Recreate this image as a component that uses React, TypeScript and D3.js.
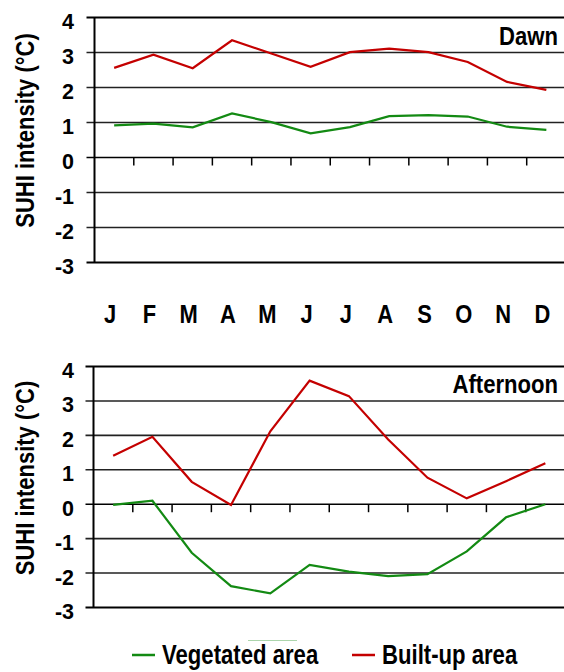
import React, { useEffect, useRef } from 'react';
import * as d3 from 'd3';

const months = ['J', 'F', 'M', 'A', 'M', 'J', 'J', 'A', 'S', 'O', 'N', 'D'];
const yTicks = [4, 3, 2, 1, 0, -1, -2, -3];

const dawnVegetated = [0.92, 0.97, 0.86, 1.26, 1.01, 0.69, 0.87, 1.18, 1.21, 1.17, 0.88, 0.79];
const dawnBuilt = [2.56, 2.94, 2.55, 3.35, 2.97, 2.59, 3.01, 3.11, 3.01, 2.73, 2.16, 1.93];
const afternoonVegetated = [-0.02, 0.1, -1.41, -2.38, -2.59, -1.76, -1.96, -2.09, -2.03, -1.37, -0.38, 0];
const afternoonBuilt = [1.41, 1.96, 0.65, -0.02, 2.12, 3.59, 3.14, 1.88, 0.77, 0.17, 0.67, 1.19];

const GREEN = '#138a13';
const RED = '#c40000';
const SANS = "'Liberation Sans', Arial, sans-serif";

// bold text squeezed horizontally, the source uses a narrow face
function narrowText(sel: any, x: number, y: number, txt: string, size: number, anchor = 'start', sx = 0.84, rotate = 0) {
  return sel.append('text')
    .attr('transform', `translate(${x},${y}) rotate(${rotate}) scale(${sx},1)`)
    .attr('text-anchor', anchor)
    .attr('font-family', SANS)
    .attr('font-weight', 'bold')
    .attr('font-size', size)
    .text(txt);
}

function App() {
  const ref = useRef<SVGSVGElement>(null);

  useEffect(() => {
    const svg = d3.select(ref.current);
    svg.selectAll('*').remove();

    const panels = [
      { title: 'Dawn', top: 17.5, bottom: 262.5, left: 94.5, veg: dawnVegetated, built: dawnBuilt, titleY: 45, labelY: 130.5 },
      { title: 'Afternoon', top: 366.5, bottom: 607.5, left: 93.5, veg: afternoonVegetated, built: afternoonBuilt, titleY: 393, labelY: 478 },
    ];

    panels.forEach((p, pi) => {
      const g = svg.append('g');
      const x = d3.scaleLinear().domain([0, 12]).range([p.left, p.left + 471.5]);
      const y = d3.scaleLinear().domain([-3, 4]).range([p.bottom, p.top]);

      yTicks.forEach(t => {
        g.append('line')
          .attr('x1', p.left - 8).attr('x2', 564)
          .attr('y1', y(t)).attr('y2', y(t))
          .attr('stroke', t === 4 || t === -3 || t === 0 ? '#000' : '#222')
          .attr('stroke-width', t === 4 || t === -3 ? 2 : 1.6);
        g.append('text')
          .attr('x', 74).attr('y', y(t) + 11.5)
          .attr('text-anchor', 'end')
          .attr('font-family', SANS)
          .attr('font-weight', 'bold')
          .attr('font-size', 21.5)
          .text(t);
      });

      g.append('line')
        .attr('x1', p.left).attr('x2', p.left)
        .attr('y1', y(4)).attr('y2', y(-3))
        .attr('stroke', '#000').attr('stroke-width', 2);

      d3.range(1, 12).forEach(i => {
        g.append('line')
          .attr('x1', x(i)).attr('x2', x(i))
          .attr('y1', y(0)).attr('y2', y(0) + 8)
          .attr('stroke', '#000').attr('stroke-width', 1.5);
      });

      narrowText(g, 34, p.labelY, 'SUHI intensity (°C)', 26.5, 'middle', 0.83, -90);
      narrowText(g, 558, p.titleY, p.title, 26, 'end', 0.85);

      const line = d3.line<number>()
        .x((d, i) => x(i + 0.5))
        .y(d => y(d));

      g.append('path')
        .datum(p.veg)
        .attr('fill', 'none')
        .attr('stroke', GREEN)
        .attr('stroke-width', 2.2)
        .attr('d', line);

      g.append('path')
        .datum(p.built)
        .attr('fill', 'none')
        .attr('stroke', RED)
        .attr('stroke-width', 2.2)
        .attr('d', line);

      if (pi === 0) {
        months.forEach((m, i) => {
          narrowText(g, x(i + 0.5) - 4, 323, m, 25.5, 'middle', 0.86);
        });
      }
    });

    // legend
    const legend = svg.append('g');
    legend.append('line')
      .attr('x1', 248).attr('x2', 297).attr('y1', 640.5).attr('y2', 640.5)
      .attr('stroke', GREEN).attr('stroke-width', 1.2).attr('opacity', 0.35);
    const items = [
      { label: 'Vegetated area', color: GREEN, x: 132 },
      { label: 'Built-up area', color: RED, x: 352 },
    ];
    items.forEach(it => {
      legend.append('line')
        .attr('x1', it.x).attr('x2', it.x + 23)
        .attr('y1', 655).attr('y2', 655)
        .attr('stroke', it.color).attr('stroke-width', 2.5);
      narrowText(legend, it.x + 30, 664, it.label, 27, 'start', 0.82);
    });
  }, []);

  return (
    <svg
      ref={ref}
      width="564"
      height="672"
      style={{ position: 'absolute', left: 0, top: 0, background: '#fff' }}
    />
  );
}

export default App;
